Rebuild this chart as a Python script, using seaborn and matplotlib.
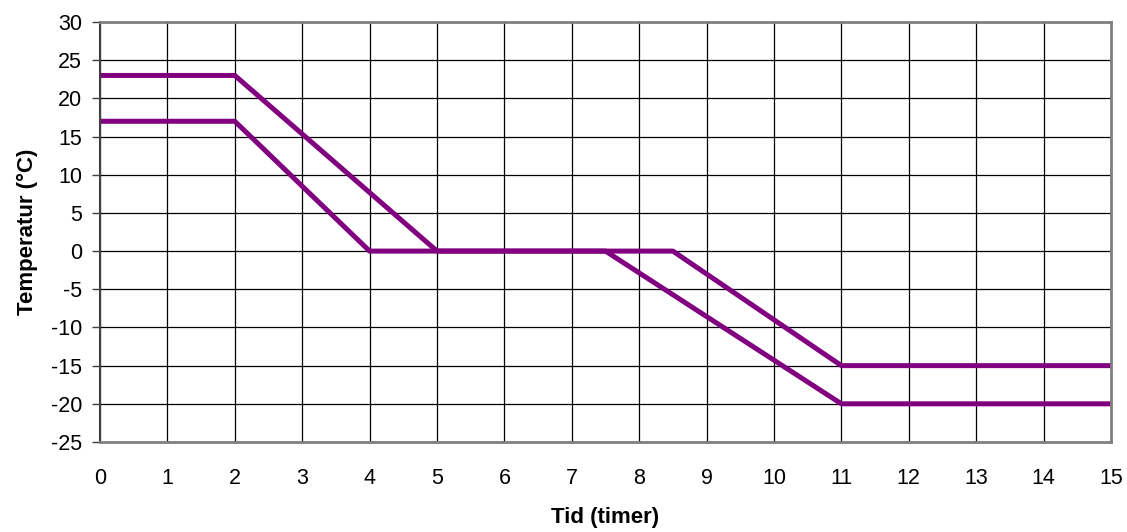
import matplotlib
matplotlib.use("Agg")
import matplotlib.pyplot as plt
import seaborn as sns
import pandas as pd

# Data
time_upper = [0, 2, 5, 8.5, 11, 15]
temp_upper = [23, 23, 0, 0, -15, -15]
time_lower = [0, 2, 4, 7.5, 11, 15]
temp_lower = [17, 17, 0, 0, -20, -20]

df = pd.concat([
    pd.DataFrame({"t": time_upper, "T": temp_upper, "s": "upper"}),
    pd.DataFrame({"t": time_lower, "T": temp_lower, "s": "lower"}),
])

sns.set_style("white")
plt.rcParams['font.family'] = ['Liberation Sans', 'DejaVu Sans']
plt.rcParams['axes.unicode_minus'] = False
plt.rcParams['text.color'] = 'black'
plt.rcParams['axes.labelcolor'] = 'black'
plt.rcParams['xtick.color'] = 'black'
plt.rcParams['ytick.color'] = 'black'

fig = plt.figure(figsize=(11.27, 5.32), dpi=100)
ax = fig.add_axes([100/1127, 1-442/532, (1111-100)/1127, (442-22)/532])

sns.lineplot(data=df, x="t", y="T", units="s", estimator=None, sort=False,
             color="#800080", linewidth=3.6, ax=ax, legend=False)

ax.set_xlim(0, 15)
ax.set_ylim(-25, 30)
ax.set_xticks(range(0, 16))
ax.set_yticks(range(-25, 31, 5))
ax.grid(True, color="black", linewidth=0.9)
ax.set_axisbelow(True)

for side in ["top", "right", "bottom"]:
    ax.spines[side].set_color("#808080")
    ax.spines[side].set_linewidth(2)
ax.spines["left"].set_color("#404040")
ax.spines["left"].set_linewidth(1.5)

ax.tick_params(axis="y", left=True, length=6, width=1, color="#404040", labelsize=15.5, pad=7, labelcolor="black")
ax.tick_params(axis="x", bottom=False, labelsize=15.5, pad=15, labelcolor="black")

ax.set_xlabel("Tid (timer)", fontsize=16, fontweight="bold", labelpad=13, color="black")
ax.set_ylabel("Temperatur (°C)", fontsize=16, fontweight="bold", labelpad=9, color="black")

fig.savefig("out.png", dpi=100)
